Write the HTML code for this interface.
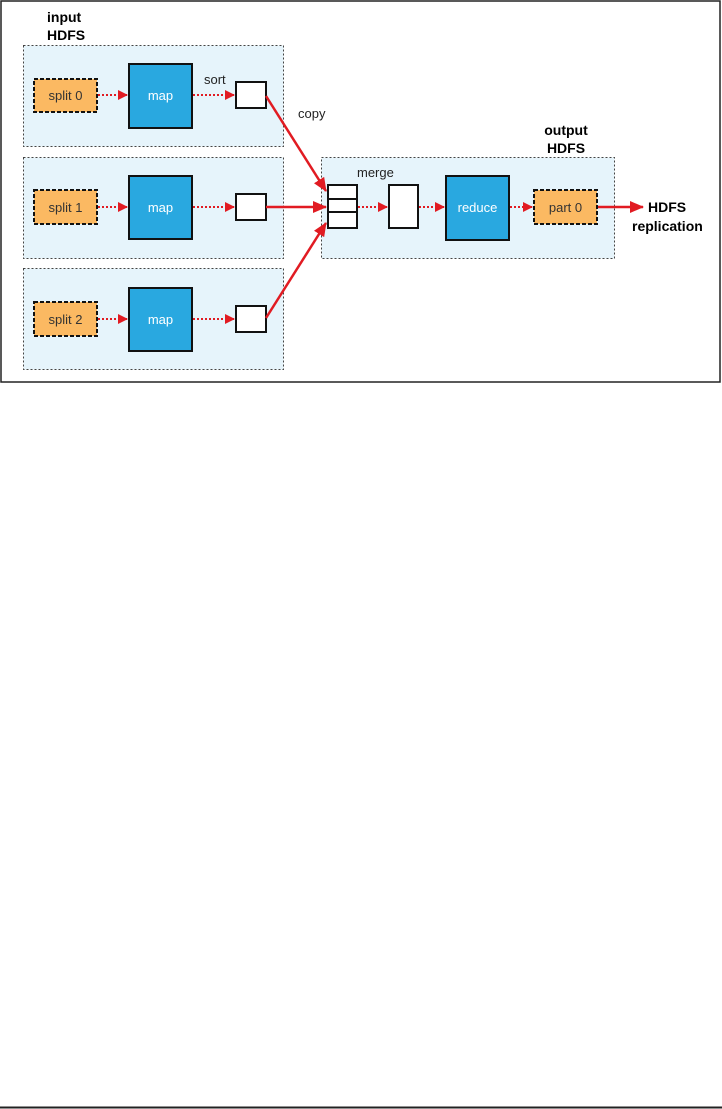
<!DOCTYPE html>
<html><head><style>
html,body{margin:0;padding:0;background:#fff;width:722px;height:1109px;overflow:hidden}
svg{display:block}
text{font-family:"Liberation Sans",sans-serif}
</style></head><body>
<svg width="722" height="1109" viewBox="0 0 722 1109" xmlns="http://www.w3.org/2000/svg">
<defs>
<marker id="ah" markerWidth="10" markerHeight="10" refX="9" refY="5" orient="auto" markerUnits="userSpaceOnUse"><path d="M0,0 L10,5 L0,10 z" fill="#e11b22"/></marker>
<marker id="ab" markerWidth="14" markerHeight="12" refX="13" refY="6" orient="auto" markerUnits="userSpaceOnUse"><path d="M0,0 L14,6 L0,12 z" fill="#e11b22"/></marker>
</defs>
<rect x="1" y="1" width="719" height="381" fill="none" stroke="#222" stroke-width="1.5"/>
<line x1="0" y1="1107.5" x2="722" y2="1107.5" stroke="#222" stroke-width="2"/>

<text x="47" y="22" font-size="14" font-weight="bold" fill="#000">input</text>
<text x="47" y="40" font-size="14" font-weight="bold" fill="#000">HDFS</text>

<g font-size="13">
<rect x="23.5" y="45.5" width="260" height="101" fill="#e6f4fb" stroke="#444" stroke-dasharray="2,2"/>
<rect x="23.5" y="157.5" width="260" height="101" fill="#e6f4fb" stroke="#444" stroke-dasharray="2,2"/>
<rect x="23.5" y="268.5" width="260" height="101" fill="#e6f4fb" stroke="#444" stroke-dasharray="2,2"/>
<rect x="321.5" y="157.5" width="293" height="101" fill="#e6f4fb" stroke="#444" stroke-dasharray="2,2"/>

<rect x="34" y="79" width="63" height="33" fill="#fbb962" stroke="#111" stroke-width="2" stroke-dasharray="4,2"/>
<text x="65.5" y="100" text-anchor="middle" fill="#333">split 0</text>
<rect x="129" y="64" width="63" height="64" fill="#29a8e0" stroke="#111" stroke-width="2"/>
<text x="160.5" y="100" text-anchor="middle" fill="#fff">map</text>
<rect x="236" y="82" width="30" height="26" fill="#fff" stroke="#111" stroke-width="2"/>
<text x="204" y="84" fill="#222">sort</text>
<text x="298" y="118" fill="#222">copy</text>
<line x1="98" y1="95" x2="127" y2="95" stroke="#e11b22" stroke-width="2" stroke-dasharray="2,2" marker-end="url(#ah)"/>
<line x1="193" y1="95" x2="234" y2="95" stroke="#e11b22" stroke-width="2" stroke-dasharray="2,2" marker-end="url(#ah)"/>

<rect x="34" y="190" width="63" height="34" fill="#fbb962" stroke="#111" stroke-width="2" stroke-dasharray="4,2"/>
<text x="65.5" y="212" text-anchor="middle" fill="#333">split 1</text>
<rect x="129" y="176" width="63" height="63" fill="#29a8e0" stroke="#111" stroke-width="2"/>
<text x="160.5" y="212" text-anchor="middle" fill="#fff">map</text>
<rect x="236" y="194" width="30" height="26" fill="#fff" stroke="#111" stroke-width="2"/>
<line x1="98" y1="207" x2="127" y2="207" stroke="#e11b22" stroke-width="2" stroke-dasharray="2,2" marker-end="url(#ah)"/>
<line x1="193" y1="207" x2="234" y2="207" stroke="#e11b22" stroke-width="2" stroke-dasharray="2,2" marker-end="url(#ah)"/>

<rect x="34" y="302" width="63" height="34" fill="#fbb962" stroke="#111" stroke-width="2" stroke-dasharray="4,2"/>
<text x="65.5" y="324" text-anchor="middle" fill="#333">split 2</text>
<rect x="129" y="288" width="63" height="63" fill="#29a8e0" stroke="#111" stroke-width="2"/>
<text x="160.5" y="324" text-anchor="middle" fill="#fff">map</text>
<rect x="236" y="306" width="30" height="26" fill="#fff" stroke="#111" stroke-width="2"/>
<line x1="98" y1="319" x2="127" y2="319" stroke="#e11b22" stroke-width="2" stroke-dasharray="2,2" marker-end="url(#ah)"/>
<line x1="193" y1="319" x2="234" y2="319" stroke="#e11b22" stroke-width="2" stroke-dasharray="2,2" marker-end="url(#ah)"/>

<line x1="266" y1="96" x2="326" y2="191" stroke="#e11b22" stroke-width="2.5" marker-end="url(#ab)"/>
<line x1="266" y1="207" x2="326" y2="207" stroke="#e11b22" stroke-width="2.5" marker-end="url(#ab)"/>
<line x1="266" y1="318" x2="326" y2="223" stroke="#e11b22" stroke-width="2.5" marker-end="url(#ab)"/>

<text x="566" y="135" text-anchor="middle" font-size="14" font-weight="bold" fill="#000">output</text>
<text x="566" y="153" text-anchor="middle" font-size="14" font-weight="bold" fill="#000">HDFS</text>
<text x="357" y="177" fill="#222">merge</text>
<rect x="328" y="185" width="29" height="43" fill="#fff" stroke="#111" stroke-width="2"/>
<line x1="328" y1="199" x2="357" y2="199" stroke="#111" stroke-width="2"/>
<line x1="328" y1="212" x2="357" y2="212" stroke="#111" stroke-width="2"/>
<rect x="389" y="185" width="29" height="43" fill="#fff" stroke="#111" stroke-width="2"/>
<rect x="446" y="176" width="63" height="64" fill="#29a8e0" stroke="#111" stroke-width="2"/>
<text x="477.5" y="212" text-anchor="middle" fill="#fff">reduce</text>
<rect x="534" y="190" width="63" height="34" fill="#fbb962" stroke="#111" stroke-width="2" stroke-dasharray="4,2"/>
<text x="565.5" y="212" text-anchor="middle" fill="#333">part 0</text>
<line x1="358" y1="207" x2="387" y2="207" stroke="#e11b22" stroke-width="2" stroke-dasharray="2,2" marker-end="url(#ah)"/>
<line x1="419" y1="207" x2="444" y2="207" stroke="#e11b22" stroke-width="2" stroke-dasharray="2,2" marker-end="url(#ah)"/>
<line x1="510" y1="207" x2="532" y2="207" stroke="#e11b22" stroke-width="2" stroke-dasharray="2,2" marker-end="url(#ah)"/>
<line x1="598" y1="207" x2="643" y2="207" stroke="#e11b22" stroke-width="2.5" marker-end="url(#ab)"/>
<text x="648" y="212" font-size="14" font-weight="bold" fill="#000">HDFS</text>
<text x="632" y="231" font-size="14" font-weight="bold" fill="#000">replication</text>
</g>
</svg>
</body></html>
